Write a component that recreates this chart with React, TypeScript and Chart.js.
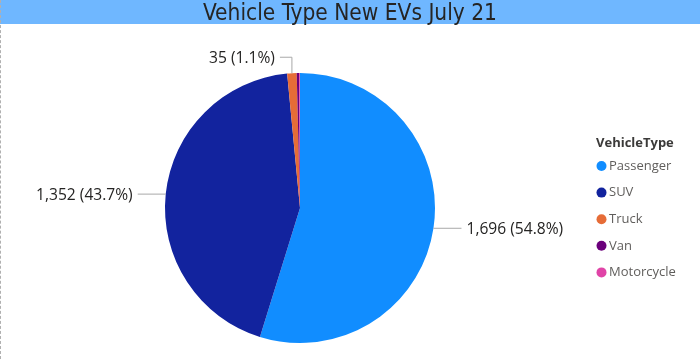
import React, { useEffect, useRef } from "react";
import { Chart, registerables } from "chart.js";

Chart.register(...registerables);

const chartTitle = "Vehicle Type New EVs July 21";
const legendTitle = "VehicleType";
const categories = ["Passenger", "SUV", "Truck", "Van", "Motorcycle"];
const counts = [1696, 1352, 35, 9, 3];
const colors = ["#118DFF", "#12239E", "#E66C37", "#6B007B", "#E044A7"];

const labelPlugin = {
  id: "pbiLabels",
  afterDatasetsDraw(chart: any) {
    const ctx = chart.ctx as CanvasRenderingContext2D;
    const meta = chart.getDatasetMeta(0);
    const data = chart.data.datasets[0].data as number[];
    const total = data.reduce((a, b) => a + b, 0);
    ctx.save();
    ctx.font = '15.6px "Open Sans"';
    ctx.fillStyle = "#252423";
    ctx.strokeStyle = "#A8A8A8";
    ctx.lineWidth = 1;
    meta.data.forEach((arc: any, i: number) => {
      const pct = (data[i] / total) * 100;
      if (pct < 1) return;
      const { x, y, startAngle, endAngle, outerRadius } = arc.getProps(
        ["x", "y", "startAngle", "endAngle", "outerRadius"],
        true
      );
      const mid = (startAngle + endAngle) / 2;
      const ex = x + Math.cos(mid) * outerRadius;
      const ey = y + Math.sin(mid) * outerRadius;
      const text = `${data[i].toLocaleString("en-US")} (${pct.toFixed(1)}%)`;
      const side = Math.cos(mid) >= 0 ? 1 : -1;
      let tx: number;
      let ty: number;
      ctx.beginPath();
      if (Math.abs(Math.cos(mid)) > 0.5) {
        const lx = ex + side * 28;
        ctx.moveTo(ex, ey);
        ctx.lineTo(lx, ey);
        tx = lx + side * 5;
        ty = ey;
      } else {
        const up = Math.sin(mid) < 0 ? -1 : 1;
        const ly = ey + up * 16;
        const lx = ex + side * 12;
        ctx.moveTo(ex, ey);
        ctx.lineTo(ex, ly);
        ctx.lineTo(lx, ly);
        tx = lx + side * 5;
        ty = ly;
      }
      ctx.stroke();
      ctx.textAlign = side > 0 ? "left" : "right";
      ctx.textBaseline = "middle";
      ctx.fillText(text, tx, ty + 1);
    });
    ctx.restore();
  },
};

const legendPlugin = {
  id: "pbiLegend",
  afterDraw(chart: any) {
    const ctx = chart.ctx as CanvasRenderingContext2D;
    const left = 596;
    const titleY = 143;
    const firstY = 166;
    const step = 26.6;
    ctx.save();
    ctx.textBaseline = "middle";
    ctx.textAlign = "left";
    ctx.font = 'bold 13px "Open Sans"';
    ctx.fillStyle = "#3b3a39";
    ctx.fillText(legendTitle, left, titleY);
    ctx.font = '13px "Open Sans"';
    (chart.data.labels as string[]).forEach((lab, i) => {
      const cy = firstY + i * step;
      ctx.beginPath();
      ctx.fillStyle = (chart.data.datasets[0].backgroundColor as string[])[i];
      ctx.arc(left + 5.5, cy, 5, 0, Math.PI * 2);
      ctx.fill();
      ctx.fillStyle = "#605E5C";
      ctx.fillText(lab, left + 13, cy);
    });
    ctx.restore();
  },
};

export default function App() {
  const ref = useRef<HTMLCanvasElement | null>(null);
  useEffect(() => {
    document.body.style.margin = "0";
    const chart = new Chart(ref.current as HTMLCanvasElement, {
      type: "pie",
      data: {
        labels: categories,
        datasets: [
          {
            data: counts,
            backgroundColor: colors,
            borderWidth: 0,
          },
        ],
      },
      options: {
        animation: false,
        responsive: false,
        maintainAspectRatio: false,
        layout: { padding: { left: 165, right: 265, top: 73, bottom: 16 } },
        plugins: {
          legend: { display: false },
          tooltip: { enabled: false },
          title: { display: false },
        },
      },
      plugins: [labelPlugin, legendPlugin],
    });
    return () => chart.destroy();
  }, []);
  return (
    <div style={{ position: "relative", width: 700, height: 359, background: "#fff", overflow: "hidden" }}>
      <canvas ref={ref} width={700} height={359} style={{ position: "absolute", left: 0, top: 0 }} />
      <div
        style={{
          position: "absolute",
          left: 0,
          top: 0,
          width: 700,
          height: 24,
          background: "#6FB7FF",
          color: "#252423",
          fontFamily: '"DejaVu Sans Condensed", "DejaVu Sans", sans-serif',
          fontSize: 22.5,
          lineHeight: "24px",
          textAlign: "center",
          whiteSpace: "nowrap",
        }}
      >
        {chartTitle}
      </div>
      <div
        style={{
          position: "absolute",
          left: 0,
          top: 0,
          width: 0,
          height: 359,
          borderLeft: "1px dashed #b0b0b0",
        }}
      />
    </div>
  );
}
